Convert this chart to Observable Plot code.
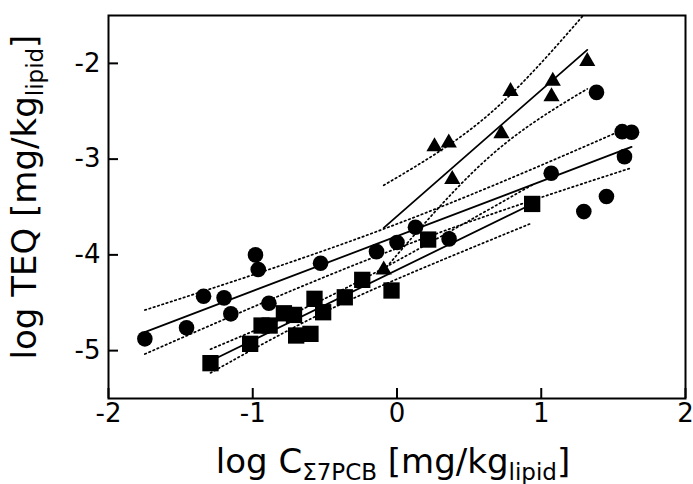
<!DOCTYPE html>
<html>
<head>
<meta charset="utf-8">
<script src="https://cdn.jsdelivr.net/npm/d3@7"></script>
<script src="https://cdn.jsdelivr.net/npm/@observablehq/plot@0.6"></script>
<style>
  html, body { margin: 0; padding: 0; background: #fff; }
  #chart svg { display: block; }
</style>
</head>
<body>
<div id="chart"></div>
<script>
// ---- data (log units) ----
const circleX = [-1.748, -1.459, -1.341, -1.199, -1.152, -0.981, -0.962, -0.888, -0.530, -0.142, 0.000, 0.128, 0.361, 1.069, 1.295, 1.452, 1.383, 1.561, 1.626, 1.577];
const circleY = [-4.877, -4.762, -4.432, -4.449, -4.616, -4.000, -4.153, -4.505, -4.088, -3.966, -3.870, -3.712, -3.833, -3.148, -3.548, -3.391, -2.303, -2.713, -2.720, -2.974];

const squareX = [-1.293, -1.018, -0.939, -0.883, -0.784, -0.714, -0.699, -0.600, -0.572, -0.512, -0.362, -0.241, -0.038, 0.216, 0.937];
const squareY = [-5.131, -4.929, -4.738, -4.738, -4.610, -4.627, -4.842, -4.825, -4.459, -4.599, -4.443, -4.261, -4.372, -3.840, -3.468];

const triangleX = [-0.092, 0.260, 0.359, 0.383, 0.724, 0.787, 1.080, 1.071, 1.319];
const triangleY = [-4.157, -2.870, -2.831, -3.212, -2.732, -2.292, -2.185, -2.348, -1.979];

const xTicks = [-2, -1, 0, 1, 2];
const yTicks = [-5, -4, -3, -2];
const confidence = 0.95;

const groups = [
  {name: "circle", xs: circleX, ys: circleY},
  {name: "square", xs: squareX, ys: squareY},
  {name: "triangle", xs: triangleX, ys: triangleY}
];

const points = groups.flatMap(g => g.xs.map((x, i) => ({group: g.name, x, y: g.ys[i]})));

// ---- Student t quantile (for the confidence band of each regression) ----
function lgamma(x) {
  const c = [0.99999999999980993, 676.5203681218851, -1259.1392167224028, 771.32342877765313,
    -176.61502916214059, 12.507343278686905, -0.13857109526572012, 9.9843695780195716e-6, 1.5056327351493116e-7];
  if (x < 0.5) return Math.log(Math.PI / Math.sin(Math.PI * x)) - lgamma(1 - x);
  x -= 1;
  let a = c[0];
  const t = x + 7.5;
  for (let i = 1; i < 9; i++) a += c[i] / (x + i);
  return 0.5 * Math.log(2 * Math.PI) + (x + 0.5) * Math.log(t) - t + Math.log(a);
}
function tCdf(t, df) {
  const k = Math.exp(lgamma((df + 1) / 2) - lgamma(df / 2)) / Math.sqrt(df * Math.PI);
  const f = u => k * Math.pow(1 + u * u / df, -(df + 1) / 2);
  const N = 400, h = t / N;
  let s = f(0) + f(t);
  for (let i = 1; i < N; i++) s += (i % 2 ? 4 : 2) * f(i * h);
  return 0.5 + s * h / 3;
}
function tQuantile(p, df) {
  let lo = 0, hi = 30;
  for (let i = 0; i < 60; i++) {
    const m = (lo + hi) / 2;
    if (tCdf(m, df) < p) lo = m; else hi = m;
  }
  return (lo + hi) / 2;
}

// ---- confidence bands computed from the data ----
const bands = groups.flatMap(g => {
  const n = g.xs.length;
  const mx = d3.mean(g.xs), my = d3.mean(g.ys);
  const sxx = d3.sum(g.xs, x => (x - mx) ** 2);
  const sxy = d3.sum(g.xs, (x, i) => (x - mx) * (g.ys[i] - my));
  const b = sxy / sxx, a = my - b * mx;
  const sse = d3.sum(g.xs, (x, i) => (g.ys[i] - (a + b * x)) ** 2);
  const s = Math.sqrt(sse / (n - 2));
  const tq = tQuantile(1 - (1 - confidence) / 2, n - 2);
  const [x0, x1] = d3.extent(g.xs);
  return d3.range(0, 81).map(k => {
    const x = x0 + (x1 - x0) * k / 80;
    const yh = a + b * x;
    const h = tq * s * Math.sqrt(1 / n + (x - mx) ** 2 / sxx);
    return {group: g.name, x, lo: yh - h, hi: yh + h};
  });
});

const fmt = d => String(d);
const dotted = {stroke: "black", strokeWidth: 1.7, strokeDasharray: "1.5,3", clip: true};

const W = 693, H = 484, mL = 108, mR = 8, mT = 15, mB = 86;
const tickLen = 10;

const plot = Plot.plot({
  width: W,
  height: H,
  marginLeft: mL,
  marginRight: mR,
  marginTop: mT,
  marginBottom: mB,
  style: {fontFamily: "DejaVu Sans, Verdana, sans-serif", fontSize: "26px", color: "black", background: "white"},
  x: {domain: [-2, 2], label: null},
  y: {domain: [-5.5, -1.5], label: null},
  marks: [
    // tick labels
    Plot.axisX(xTicks, {tickSize: 0, tickPadding: 5, tickFormat: fmt, fontSize: 26}),
    Plot.axisY(yTicks, {tickSize: 0, tickPadding: 8, tickFormat: fmt, fontSize: 26}),
    // inward tick marks
    Plot.tickX(xTicks, {x: d => d, stroke: "black", strokeWidth: 2, insetTop: H - mT - mB - tickLen}),
    Plot.tickY(yTicks, {y: d => d, stroke: "black", strokeWidth: 2, insetRight: W - mL - mR - tickLen}),
    // confidence bands (dotted)
    Plot.line(bands, {x: "x", y: "hi", z: "group", ...dotted}),
    Plot.line(bands, {x: "x", y: "lo", z: "group", ...dotted}),
    // regression lines
    Plot.linearRegressionY(points, {x: "x", y: "y", z: "group", stroke: "black", strokeWidth: 1.8, fill: "none", clip: true}),
    // data
    Plot.dot(points.filter(d => d.group === "circle"), {x: "x", y: "y", symbol: "circle", r: 7.8, fill: "black", stroke: "none"}),
    Plot.dot(points.filter(d => d.group === "square"), {x: "x", y: "y", symbol: "square", r: 9.2, fill: "black", stroke: "none"}),
    Plot.dot(points.filter(d => d.group === "triangle"), {x: "x", y: "y", symbol: "triangle", r: 6.0, fill: "black", stroke: "none"}),
    Plot.frame({stroke: "black", strokeWidth: 2})
  ]
});

// ---- axis titles with subscripts ----
const svg = d3.select(plot);
const titleSize = 34, subSize = 23, shift = 7;
const xt = svg.append("text")
  .attr("x", 393).attr("y", 473)
  .attr("text-anchor", "middle")
  .attr("font-family", "DejaVu Sans, Verdana, sans-serif")
  .attr("font-size", titleSize).attr("fill", "black");
xt.append("tspan").text("log C");
xt.append("tspan").attr("font-size", subSize).attr("dy", shift).text("Σ7PCB");
xt.append("tspan").attr("dy", -shift).text(" [mg/kg");
xt.append("tspan").attr("font-size", subSize).attr("dy", shift).text("lipid");
xt.append("tspan").attr("dy", -shift).text("]");

const yt = svg.append("text")
  .attr("transform", "translate(36,197) rotate(-90)")
  .attr("text-anchor", "middle")
  .attr("font-family", "DejaVu Sans, Verdana, sans-serif")
  .attr("font-size", titleSize).attr("fill", "black");
yt.append("tspan").text("log TEQ [mg/kg");
yt.append("tspan").attr("font-size", subSize).attr("dy", shift).text("lipid");
yt.append("tspan").attr("dy", -shift).text("]");

document.getElementById("chart").appendChild(plot);
</script>
</body>
</html>
